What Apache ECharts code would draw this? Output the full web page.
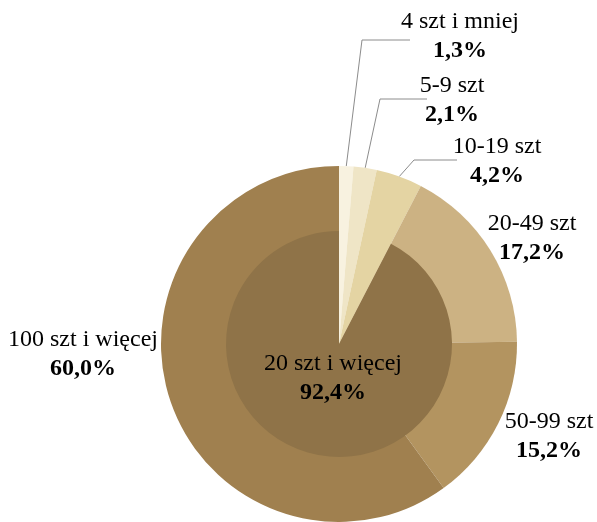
<!DOCTYPE html>
<html>
<head>
<meta charset="utf-8">
<script src="https://cdn.jsdelivr.net/npm/echarts@6/dist/echarts.min.js"></script>
<style>
  html, body { margin: 0; padding: 0; background: #fff; }
  #chart { width: 597px; height: 522px; }
</style>
</head>
<body>
<div id="chart"></div>
<script>
var outerNames = ["4 szt i mniej", "5-9 szt", "10-19 szt", "20-49 szt", "50-99 szt", "100 szt i więcej"];
var outerValues = [1.3, 2.1, 4.2, 17.2, 15.2, 60.0];
var innerNames = ["", "20 szt i więcej"];
var innerValues = [7.6, 92.4];

var outerColors = ["#f8f2e0", "#efe5c6", "#e4d4a3", "#ccb283", "#b39460", "#a0804f"];
var innerColors = ["transparent", "#8f7348"];
// label block centres (x, y) and leader-line elbow/end for the small slices
var outerLabelPos = [[460, 36], [452, 100], [497, 161], [532, 238], [549, 436], [83, 354]];
var outerLine = [[[362, 40], [410, 40]], [[380, 99], [427, 99]], [[414, 160], [457, 160]], null, null, null];
var innerLabelPos = [333, 378];

function fmt (v) {
  return v.toFixed(1).replace(".", ",") + "%";
}

var myCharts = echarts.init(document.getElementById("chart"));
var richText = {
  n: { fontFamily: "Liberation Serif", fontSize: 24, color: "#000", lineHeight: 29 },
  v: { fontFamily: "Liberation Serif", fontSize: 24, fontWeight: "bold", color: "#000", lineHeight: 29 }
};

var option = {
  backgroundColor: "white",
  animation: false,
  series: [
    {
      type: "pie",
      center: [339, 344],
      radius: [0, 178],
      startAngle: 90,
      silent: true,
      itemStyle: { borderWidth: 0 },
      label: {
        show: true,
        overflow: "none",
        width: 300,
        formatter (p) {
          return "{n|" + p.name + "}\n{v|" + fmt(p.value) + "}";
        },
        rich: richText
      },
      labelLine: {
        show: true,
        length: 10,
        length2: 10,
        lineStyle: { color: "#8c8c8c", width: 1 }
      },
      labelLayout (params) {
        var i = params.dataIndex;
        var res = {
          x: outerLabelPos[i][0],
          y: outerLabelPos[i][1],
          align: "center",
          verticalAlign: "middle"
        };
        if (outerLine[i] && params.labelLinePoints) {
          res.labelLinePoints = [params.labelLinePoints[0], outerLine[i][0], outerLine[i][1]];
        }
        return res;
      },
      data: outerNames.map(function (name, i) {
        return {
          name: name,
          value: outerValues[i],
          itemStyle: { color: outerColors[i] },
          labelLine: { show: !!outerLine[i] }
        };
      })
    },
    {
      type: "pie",
      center: [339, 344],
      radius: [0, 113],
      startAngle: 90,
      silent: true,
      itemStyle: { borderWidth: 0 },
      label: {
        show: true,
        position: "inside",
        formatter (p) {
          return p.name ? "{n|" + p.name + "}\n{v|" + fmt(p.value) + "}" : "";
        },
        rich: richText
      },
      labelLine: { show: false },
      labelLayout (params) {
        return {
          x: innerLabelPos[0],
          y: innerLabelPos[1],
          align: "center",
          verticalAlign: "middle"
        };
      },
      data: innerNames.map(function (name, i) {
        return {
          name: name,
          value: innerValues[i],
          itemStyle: { color: innerColors[i] },
          label: { show: i === 1 }
        };
      })
    }
  ]
};
option && myCharts.setOption(option);
</script>
</body>
</html>
